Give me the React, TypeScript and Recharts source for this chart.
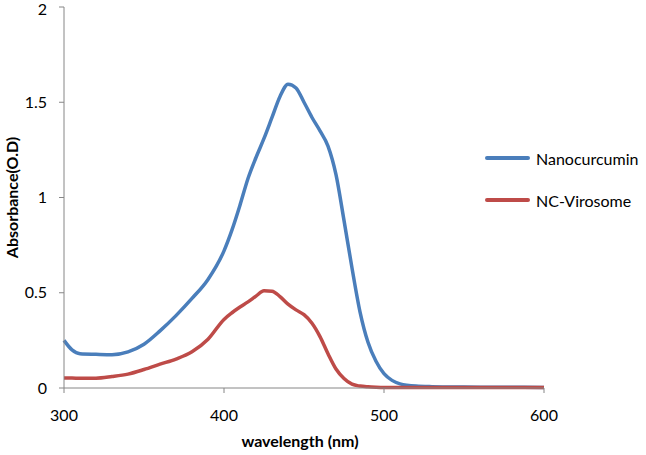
import React from "react";
import { LineChart, Line, XAxis, YAxis } from "recharts";

// wavelength (nm) sample points
const wavelengths = [
  300, 305, 310, 320, 330, 340, 350, 360, 370, 380, 390, 400, 405, 410, 415, 420,
  425, 430, 435, 440, 445, 450, 455, 460, 465, 470, 475, 480, 485, 490, 495, 500,
  505, 510, 520, 530, 550, 575, 600,
];

const nanocurcumin = [
  0.25, 0.2, 0.18, 0.177, 0.175, 0.19, 0.23, 0.3, 0.38, 0.47, 0.57, 0.72, 0.83, 0.96,
  1.1, 1.21, 1.31, 1.42, 1.53, 1.595, 1.575, 1.5, 1.42, 1.35, 1.27, 1.12, 0.88, 0.63,
  0.4, 0.24, 0.14, 0.075, 0.04, 0.022, 0.01, 0.007, 0.005, 0.004, 0.003,
];

const ncVirosome = [
  0.052, 0.052, 0.051, 0.051, 0.06, 0.073, 0.097, 0.125, 0.152, 0.19, 0.256, 0.36,
  0.395, 0.425, 0.452, 0.482, 0.51, 0.508, 0.48, 0.44, 0.41, 0.385, 0.34, 0.27, 0.18,
  0.1, 0.05, 0.02, 0.01, 0.006, 0.004, 0.003, 0.003, 0.003, 0.003, 0.003, 0.003,
  0.003, 0.003,
];

const xTicks = [300, 400, 500, 600];
const yTicks = [0, 0.5, 1, 1.5, 2];

const data = wavelengths.map((w, i) => ({
  wavelength: w,
  nano: nanocurcumin[i],
  viro: ncVirosome[i],
}));

const BLUE = "#4a7ebb";
const RED = "#be4b48";
const AXIS = "#868686";
const FONT = "Lato, 'Open Sans', sans-serif";

const series = [
  { key: "nano", name: "Nanocurcumin", color: BLUE },
  { key: "viro", name: "NC-Virosome", color: RED },
];

// Excel-style legend sitting over the right side of the plot
function SideLegend() {
  return (
    <div style={{ position: "absolute", left: 485, top: 147, fontFamily: FONT }}>
      {series.map((s) => (
        <div key={s.key} style={{ display: "flex", alignItems: "center", height: 22, marginBottom: 20 }}>
          <span
            style={{
              display: "inline-block",
              width: 45,
              height: 4,
              borderRadius: 2,
              background: s.color,
              marginRight: 6,
            }}
          />
          <span style={{ fontSize: 16, color: "#000", whiteSpace: "nowrap" }}>{s.name}</span>
        </div>
      ))}
    </div>
  );
}

export default function App() {
  return (
    <div style={{ position: "absolute", left: 0, top: 0, width: 646, height: 455, background: "#fff" }}>
      <LineChart
        width={646}
        height={455}
        data={data}
        margin={{ top: 7, right: 102, bottom: 0, left: 0 }}
        style={{ fontFamily: FONT }}
      >
        <XAxis
          dataKey="wavelength"
          type="number"
          domain={[300, 600]}
          ticks={xTicks}
          height={67}
          stroke={AXIS}
          tickSize={5}
          tickMargin={17}
          tick={{ fill: "#000", fontSize: 16 }}
          label={{
            value: "wavelength (nm)",
            position: "insideBottom",
            offset: 8,
            dx: -4,
            style: { fill: "#000", fontSize: 16, fontWeight: 700 },
          }}
        />
        <YAxis
          type="number"
          domain={[0, 2]}
          ticks={yTicks}
          width={64}
          stroke={AXIS}
          tickSize={5}
          tickMargin={12}
          tick={{ fill: "#000", fontSize: 16 }}
          label={{
            value: "Absorbance(O.D)",
            angle: -90,
            position: "insideLeft",
            offset: 12,
            style: { fill: "#000", fontSize: 16, fontWeight: 700, textAnchor: "middle" },
          }}
        />
        {series.map((s) => (
          <Line
            key={s.key}
            type="monotone"
            dataKey={s.key}
            name={s.name}
            stroke={s.color}
            strokeWidth={3.5}
            dot={false}
            isAnimationActive={false}
          />
        ))}
      </LineChart>
      <SideLegend />
    </div>
  );
}
